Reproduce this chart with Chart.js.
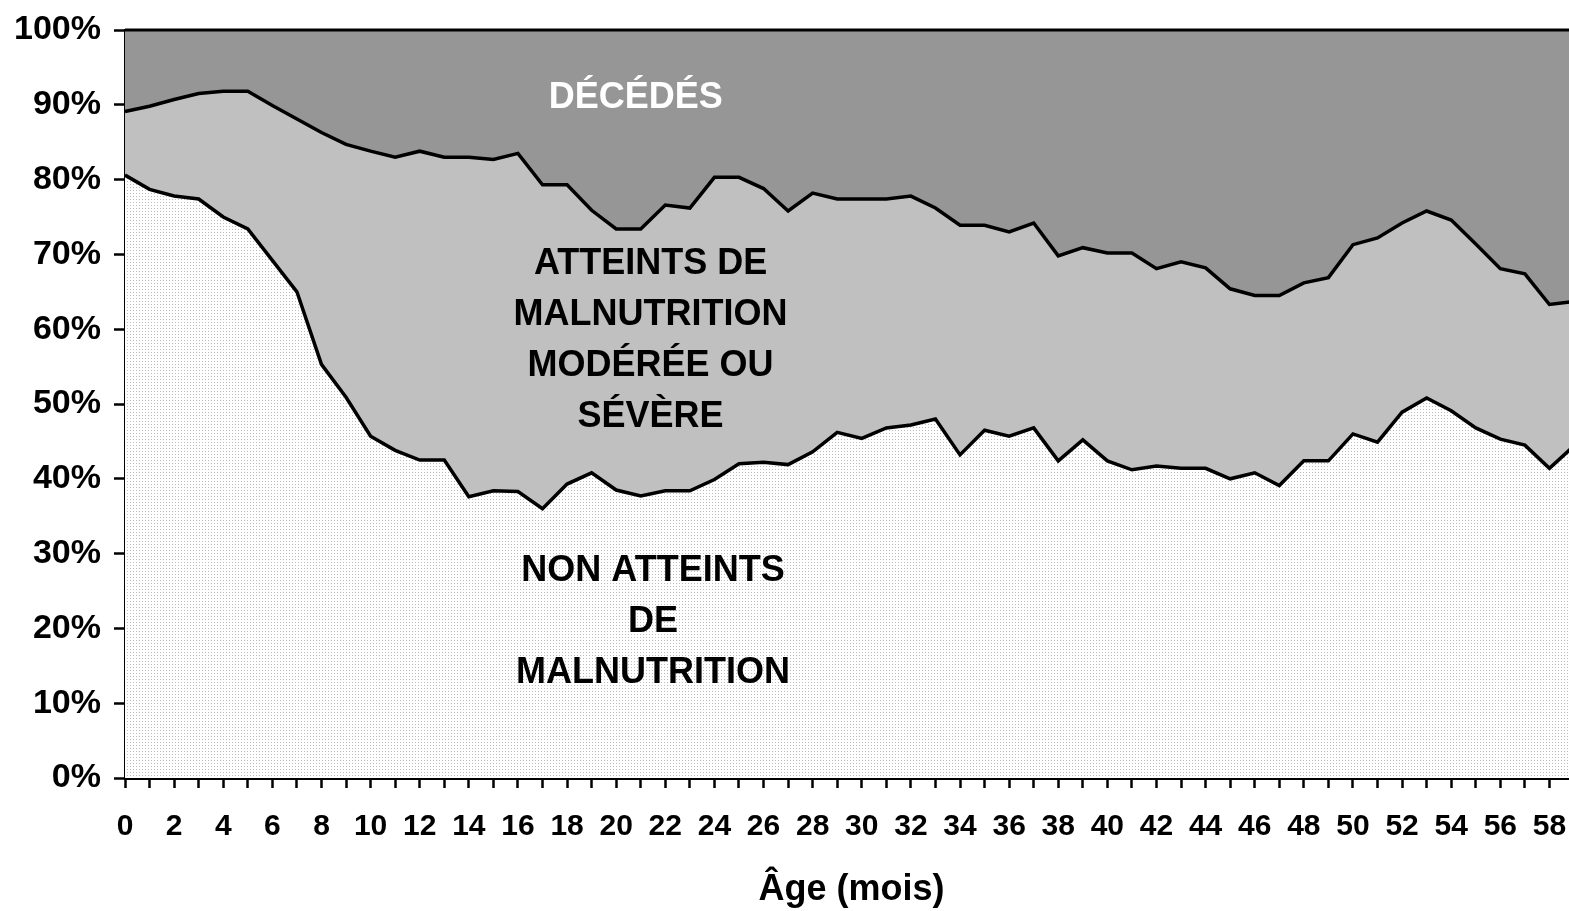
<!DOCTYPE html>
<html>
<head>
<meta charset="utf-8">
<script src="https://cdn.jsdelivr.net/npm/chart.js@4.4.1/dist/chart.umd.min.js"></script>
<style>
  html, body { margin: 0; padding: 0; background: #ffffff; overflow: hidden; }
  #wrap { width: 1569px; height: 911px; overflow: hidden; position: relative; }
  canvas { display: block; }
</style>
</head>
<body>
<div id="wrap"><canvas id="c" width="1595" height="911"></canvas></div>
<script>
// Age in months (categories)
const ages = [0,1,2,3,4,5,6,7,8,9,10,11,12,13,14,15,16,17,18,19,20,21,22,23,24,25,26,27,28,29,
  30,31,32,33,34,35,36,37,38,39,40,41,42,43,44,45,46,47,48,49,50,51,52,53,54,55,56,57,58,59];

// Share (%) not affected by malnutrition
const nonAtteints = [80.6,78.7,77.8,77.4,75.0,73.4,69.2,65.0,55.3,50.9,45.7,43.8,42.5,42.5,37.6,38.4,38.3,36.0,39.3,40.8,
  38.5,37.7,38.4,38.4,39.9,42.0,42.2,41.9,43.6,46.2,45.4,46.8,47.2,48.0,43.2,46.5,45.7,46.8,42.4,45.2,
  42.4,41.2,41.7,41.4,41.4,40.0,40.8,39.1,42.4,42.4,46.0,44.9,48.9,50.8,49.1,46.8,45.3,44.5,41.4,44.4];

// Share (%) with moderate or severe malnutrition
const atteints = [8.5,11.1,12.9,14.1,16.8,18.4,20.7,23.1,31.0,33.8,38.1,39.2,41.3,40.5,45.4,44.3,45.2,43.3,40.0,35.1,
  34.9,35.7,38.2,37.8,40.4,38.3,36.6,33.9,34.6,31.2,32.0,30.6,30.6,28.2,30.7,27.4,27.3,27.4,27.4,25.7,
  27.8,29.0,26.4,27.6,26.8,25.4,23.7,25.4,23.8,24.5,25.3,27.3,25.3,25.0,25.5,24.6,22.8,22.9,21.9,19.3];

// Share (%) deceased
const decedes = [10.9,10.2,9.3,8.5,8.2,8.2,10.1,11.9,13.7,15.3,16.2,17.0,16.2,17.0,17.0,17.3,16.5,20.7,20.7,24.1,
  26.6,26.6,23.4,23.8,19.7,19.7,21.2,24.2,21.8,22.6,22.6,22.6,22.2,23.8,26.1,26.1,27.0,25.8,30.2,29.1,
  29.8,29.8,31.9,31.0,31.8,34.6,35.5,35.5,33.8,33.1,28.7,27.8,25.8,24.2,25.4,28.6,31.9,32.6,36.7,36.3];

const yTicks = [0,10,20,30,40,50,60,70,80,90,100];
const xTitle = 'Âge (mois)';

// Zone labels (text, colour, anchor in data units)
const zoneLabels = [
  { lines: ['DÉCÉDÉS'], color: '#ffffff', x: 20.8, y: 90.9 },
  { lines: ['ATTEINTS DE', 'MALNUTRITION', 'MODÉRÉE OU', 'SÉVÈRE'], color: '#000000', x: 21.4, y: 58.5 },
  { lines: ['NON ATTEINTS', 'DE', 'MALNUTRITION'], color: '#000000', x: 21.5, y: 20.9 }
];

// dotted pattern for bottom area
function makePattern() {
  const p = document.createElement('canvas');
  p.width = 3; p.height = 3;
  const g = p.getContext('2d');
  g.fillStyle = '#ffffff';
  g.fillRect(0, 0, 3, 3);
  g.fillStyle = '#bcbcbc';
  g.fillRect(1, 1, 1, 1);
  return g.createPattern(p, 'repeat');
}
const ctx = document.getElementById('c').getContext('2d');
const dotPattern = makePattern();

const FONT = "'Liberation Sans', Arial, sans-serif";

const labelPlugin = {
  id: 'zoneLabels',
  afterDatasetsDraw(chart) {
    const c = chart.ctx;
    const xs = chart.scales.x, ys = chart.scales.y;
    c.save();
    c.font = 'bold 36px ' + FONT;
    c.textAlign = 'center';
    c.textBaseline = 'middle';
    zoneLabels.forEach(z => {
      const cx = xs.getPixelForValue(z.x);
      const cy = ys.getPixelForValue(z.y);
      const lh = 51;
      const n = z.lines.length;
      c.fillStyle = z.color;
      z.lines.forEach((t, i) => {
        c.fillText(t, cx, cy + (i - (n - 1) / 2) * lh);
      });
    });
    // x-axis title
    const a = chart.chartArea;
    c.font = 'bold 36px ' + FONT;
    c.fillStyle = '#000000';
    c.fillText(xTitle, (a.left + a.right) / 2 + 2, a.bottom + 112);
    c.restore();
  }
};

new Chart(ctx, {
  type: 'line',
  data: {
    labels: ages,
    datasets: [
      { label: 'NON ATTEINTS DE MALNUTRITION', data: nonAtteints, fill: 'origin',
        backgroundColor: dotPattern, borderColor: '#000000', borderWidth: 3.5, pointRadius: 0, tension: 0 },
      { label: 'ATTEINTS DE MALNUTRITION MODÉRÉE OU SÉVÈRE', data: atteints, fill: '-1',
        backgroundColor: '#c0c0c0', borderColor: '#000000', borderWidth: 3.5, pointRadius: 0, tension: 0 },
      { label: 'DÉCÉDÉS', data: decedes, fill: '-1', clip: false,
        backgroundColor: '#969696', borderColor: '#000000', borderWidth: 3, pointRadius: 0, tension: 0 }
    ]
  },
  options: {
    responsive: false,
    animation: false,
    events: [],
    layout: { padding: { top: 27, left: 0, right: 14, bottom: 0 } },
    plugins: { legend: { display: false }, tooltip: { enabled: false }, title: { display: false } },
    scales: {
      x: {
        type: 'category',
        offset: false,
        afterFit: (s) => { s.height = 133; },
        grid: { drawOnChartArea: false, drawTicks: true, tickLength: 10, tickWidth: 2.5, color: '#000000' },
        border: { display: true, color: '#000000', width: 3 },
        ticks: {
          autoSkip: false, maxRotation: 0, minRotation: 0, color: '#000000', padding: 21,
          font: { family: FONT, size: 30, weight: 'bold' },
          callback: function(v, i) { return (ages[i] % 2 === 0) ? String(ages[i]) : ''; }
        },
        title: { display: false }
      },
      y: {
        stacked: true,
        min: 0, max: 100,
        afterFit: (s) => { s.width = 125; },
        afterBuildTicks: (axis) => { axis.ticks = yTicks.map(v => ({ value: v })); },
        grid: { drawOnChartArea: false, drawTicks: true, tickLength: 11, tickWidth: 2.5, color: '#000000' },
        border: { display: true, color: '#000000', width: 3 },
        ticks: { color: '#000000', padding: 13, font: { family: FONT, size: 34, weight: 'bold', lineHeight: 1 },
          callback: v => v + '%' }
      }
    }
  },
  plugins: [labelPlugin]
});
</script>
</body>
</html>
